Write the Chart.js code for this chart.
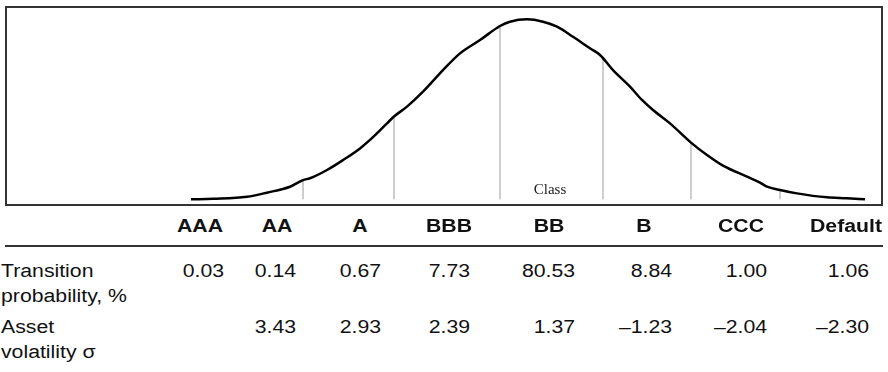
<!DOCTYPE html>
<html>
<head>
<meta charset="utf-8">
<script src="https://cdn.jsdelivr.net/npm/chart.js@4.4.1/dist/chart.umd.min.js"></script>
<style>
  html, body { margin: 0; padding: 0; background: #fff; }
  #page { position: relative; width: 888px; height: 372px; overflow: hidden; font-family: "Liberation Sans", Arial, sans-serif; color: #111; }
  #frame { position: absolute; left: 5px; top: 6px; width: 874px; height: 196px; border: 2px solid #333; }
  #frame canvas { display: block; }
  #classLabel { position: absolute; left: 500px; width: 100px; top: 181px; text-align: center; font: 15px "Liberation Serif", "Times New Roman", serif; color: #222; }
  .rule { position: absolute; left: 5px; width: 878px; height: 2px; background: #333; }
  .cell { position: absolute; font-size: 18px; line-height: 20px; white-space: nowrap; }
  .head { font-weight: bold; }
</style>
</head>
<body>
<div id="page">
  <div id="frame"><canvas id="curve" width="874" height="196"></canvas></div>
  <div id="classLabel">Class</div>
  <div class="rule" style="top:245px"></div>
  <div id="table"></div>
</div>
<script>
// rating classes and the two table rows
const classes = ["AAA", "AA", "A", "BBB", "BB", "B", "CCC", "Default"];
const transitionProb = [0.03, 0.14, 0.67, 7.73, 80.53, 8.84, 1.00, 1.06];
const assetVol = [null, 3.43, 2.93, 2.39, 1.37, -1.23, -2.04, -2.30];
const rowLabels = [["Transition", "probability, %"], ["Asset", "volatility \u03c3"]];

// density of asset returns (x in sigma units, y relative to the peak)
const curveX = [-3.36, -3.14, -2.80, -2.60, -2.37, -2.24, -2.17, -2.00, -1.84, -1.67, -1.57, -1.40, -1.33, -1.20,
  -1.04, -0.84, -0.67, -0.47, -0.27, -0.17, 0.00, 0.16, 0.30, 0.46, 0.63, 0.73, 0.86, 1.03, 1.15, 1.26,
  1.43, 1.64, 1.80, 1.96, 2.20, 2.33, 2.40, 2.53, 2.70, 3.00, 3.20, 3.38];
const curveY = [0.00, 0.003, 0.014, 0.037, 0.07, 0.107, 0.117, 0.163, 0.218, 0.283, 0.33, 0.422, 0.46, 0.515,
  0.598, 0.718, 0.811, 0.885, 0.963, 0.987, 1.00, 0.987, 0.959, 0.903, 0.839, 0.802, 0.718, 0.626, 0.552, 0.496,
  0.422, 0.315, 0.246, 0.187, 0.126, 0.093, 0.07, 0.052, 0.033, 0.011, 0.006, 0.00];

// class boundaries and the density height where each meets the curve
const cutX = [-2.24, -1.33, -0.27, 0.76, 1.64, 2.53];
const cutY = [0.107, 0.46, 0.963, 0.79, 0.315, 0.052];

const datasets = [{
  data: curveX.map((x, i) => ({x: x, y: curveY[i]})),
  borderColor: "#000",
  borderWidth: 2.5,
  pointRadius: 0,
  tension: 0.4,
  cubicInterpolationMode: "monotone",
  order: 0
}];
cutX.forEach((x, i) => {
  datasets.push({
    data: [{x: x, y: 0}, {x: x, y: cutY[i]}],
    borderColor: "#cdcdcd",
    borderWidth: 2,
    pointRadius: 0,
    order: 1
  });
});

new Chart(document.getElementById("curve").getContext("2d"), {
  type: "line",
  data: {datasets: datasets},
  options: {
    responsive: false,
    animation: false,
    devicePixelRatio: 1,
    layout: {padding: 0},
    plugins: {legend: {display: false}, tooltip: {enabled: false}},
    scales: {
      x: {type: "linear", display: false, min: -5.2, max: 3.54},
      y: {display: false, min: -0.026, max: 1.063}
    }
  }
});

// table under the chart
const headCenter = [200, 277, 360, 449, 549, 644, 741, 846];
const numRight = [224, 296, 381, 470, 575, 672, 767, 869];
const stretch = "scaleX(1.18)";
const table = document.getElementById("table");

function addCell(text, top, opts) {
  const d = document.createElement("div");
  d.className = "cell" + (opts.bold ? " head" : "");
  d.textContent = text;
  d.style.top = top + "px";
  if (opts.center !== undefined) {
    d.style.left = (opts.center - 60) + "px";
    d.style.width = "120px";
    d.style.textAlign = "center";
    d.style.transformOrigin = "center";
  } else if (opts.right !== undefined) {
    d.style.right = (888 - opts.right) + "px";
    d.style.textAlign = "right";
    d.style.transformOrigin = "right center";
  } else {
    d.style.left = opts.left + "px";
    d.style.transformOrigin = "left center";
  }
  d.style.transform = stretch;
  table.appendChild(d);
}

function fmt(v) {
  if (v === null) return "";
  const s = Math.abs(v).toFixed(2);
  return v < 0 ? "\u2013" + s : s;
}

classes.forEach((c, i) => addCell(c, 216, {bold: true, center: headCenter[i]}));

const rows = [transitionProb, assetVol];
const rowTop = [261, 317];
rows.forEach((vals, r) => {
  addCell(rowLabels[r][0], rowTop[r], {left: 1});
  addCell(rowLabels[r][1], rowTop[r] + 25, {left: 1});
  vals.forEach((v, i) => addCell(fmt(v), rowTop[r], {right: numRight[i]}));
});
</script>
</body>
</html>
